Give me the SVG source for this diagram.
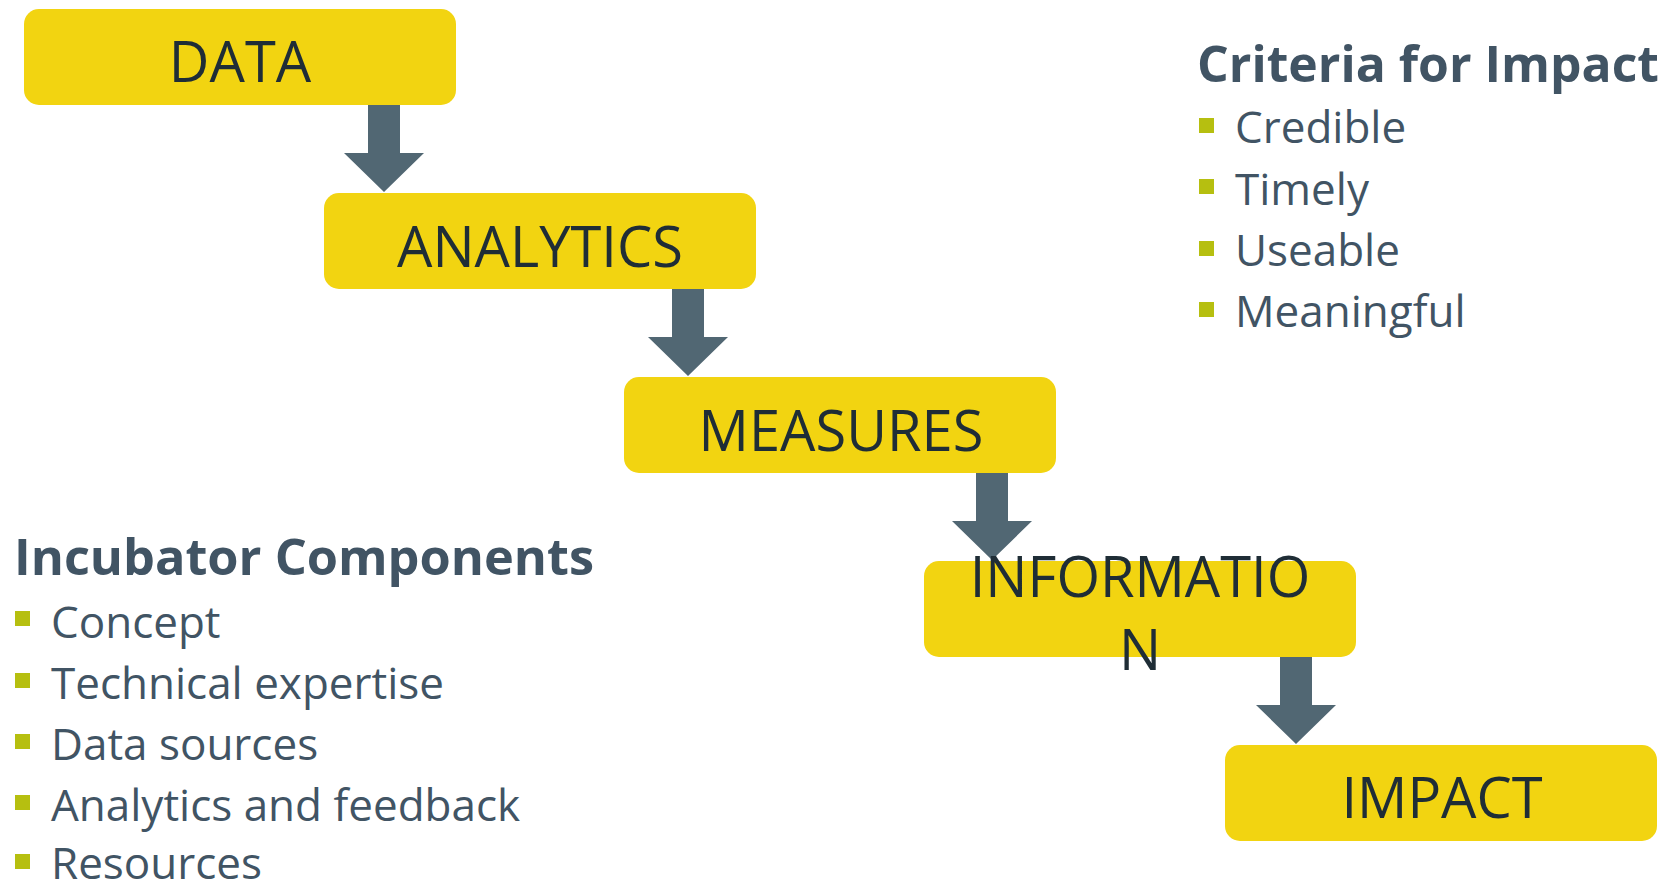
<svg xmlns="http://www.w3.org/2000/svg" width="1664" height="885" viewBox="0 0 1664 885">
  <style>
    .box { fill: #f2d411; }
    .lbl { font-family: "Open Sans", "Noto Sans", "Liberation Sans", sans-serif; font-size: 56px; fill: #1f2d36; text-anchor: middle; }
    .arrow { fill: #516773; }
    .head { font-family: "Open Sans", "Noto Sans", "Liberation Sans", sans-serif; font-size: 50.5px; font-weight: bold; fill: #415464; }
    .item { font-family: "Open Sans", "Noto Sans", "Liberation Sans", sans-serif; font-size: 44px; fill: #415464; }
    .bullet { fill: #b6bf10; }
  </style>
  <defs>
    <path id="arr" d="M-16,0 H16 V48 H40 L0,87 L-40,48 H-16 Z"/>
  </defs>
  <rect width="1664" height="885" fill="#ffffff"/>

  <g id="connectors">
    <use href="#arr" class="arrow" x="384" y="105"/>
    <use href="#arr" class="arrow" x="688" y="289"/>
    <use href="#arr" class="arrow" x="992" y="473"/>
    <use href="#arr" class="arrow" x="1296" y="657"/>
  </g>

  <g id="node-data">
    <rect class="box" x="24" y="9" width="432" height="96" rx="15"/>
    <text class="lbl" x="240" y="82">DATA</text>
  </g>
  <g id="node-analytics">
    <rect class="box" x="324" y="193" width="432" height="96" rx="15"/>
    <text class="lbl" x="540" y="267">ANALYTICS</text>
  </g>
  <g id="node-measures">
    <rect class="box" x="624" y="377" width="432" height="96" rx="15"/>
    <text class="lbl" x="841" y="451">MEASURES</text>
  </g>
  <g id="node-information">
    <rect class="box" x="924" y="561" width="432" height="96" rx="15"/>
    <text class="lbl" x="1140" y="597">INFORMATIO</text>
    <text class="lbl" x="1140" y="670">N</text>
  </g>
  <g id="node-impact">
    <rect class="box" x="1225" y="745" width="432" height="96" rx="15"/>
    <text class="lbl" x="1442" y="818">IMPACT</text>
  </g>

  <g id="criteria">
    <text class="head" x="1197" y="82" textLength="462" lengthAdjust="spacingAndGlyphs">Criteria for Impact</text>
    <rect class="bullet" x="1199" y="118" width="15" height="15"/>
    <text class="item" x="1235" y="143">Credible</text>
    <rect class="bullet" x="1199" y="179" width="15" height="15"/>
    <text class="item" x="1235" y="205">Timely</text>
    <rect class="bullet" x="1199" y="241" width="15" height="15"/>
    <text class="item" x="1235" y="266">Useable</text>
    <rect class="bullet" x="1199" y="302" width="15" height="15"/>
    <text class="item" x="1235" y="327">Meaningful</text>
  </g>

  <g id="incubator">
    <text class="head" x="14" y="575" textLength="580" lengthAdjust="spacingAndGlyphs">Incubator Components</text>
    <rect class="bullet" x="15" y="611" width="15" height="15"/>
    <text class="item" x="51" y="638">Concept</text>
    <rect class="bullet" x="15" y="673" width="15" height="15"/>
    <text class="item" x="51" y="699">Technical expertise</text>
    <rect class="bullet" x="15" y="734" width="15" height="15"/>
    <text class="item" x="51" y="760">Data sources</text>
    <rect class="bullet" x="15" y="795" width="15" height="15"/>
    <text class="item" x="51" y="821">Analytics and feedback</text>
    <rect class="bullet" x="15" y="854" width="15" height="15"/>
    <text class="item" x="51" y="879">Resources</text>
  </g>
</svg>
